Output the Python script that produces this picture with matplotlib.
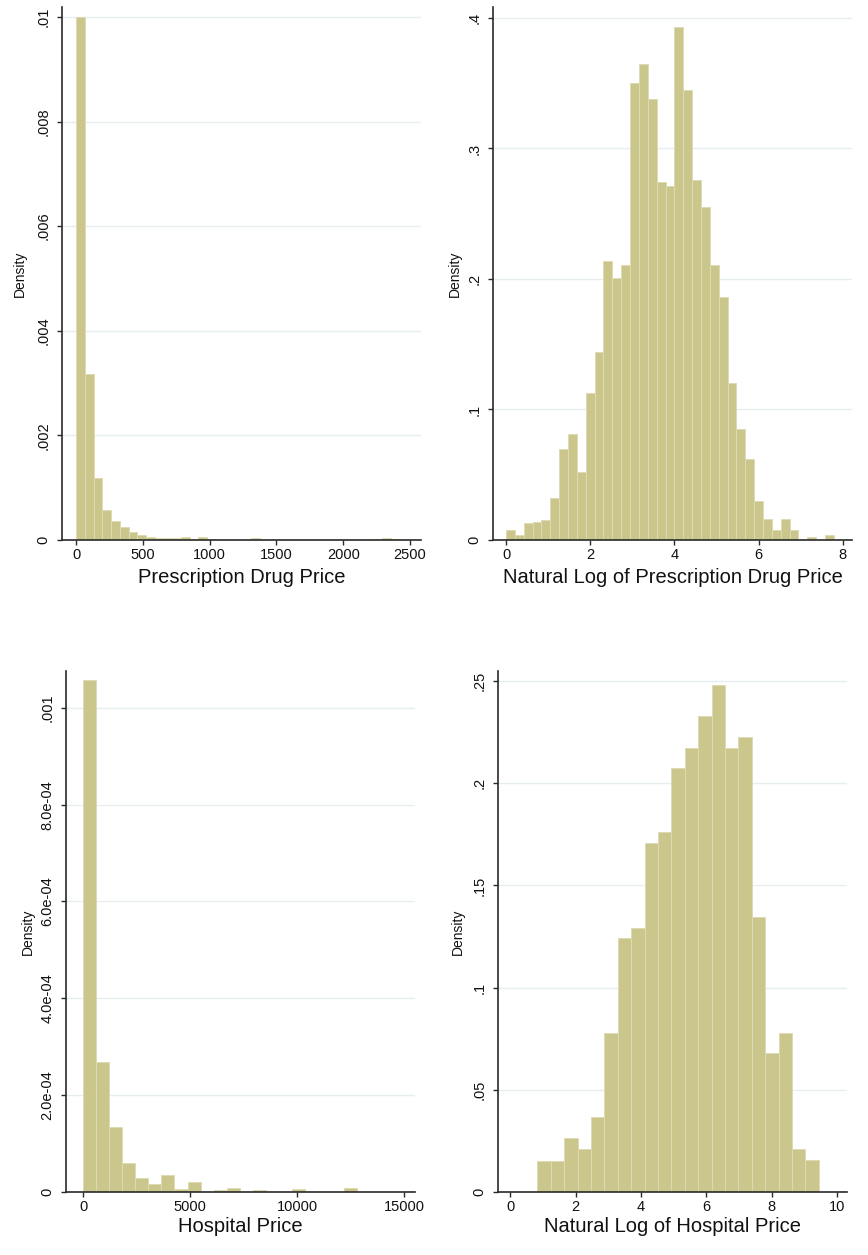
import numpy as np
import matplotlib
matplotlib.use("Agg")
import matplotlib.pyplot as plt

plt.rcParams['font.family'] = ['Liberation Sans', 'DejaVu Sans']

# ---------------- data (densities per bin) ----------------
drug_start = 1.0
drug_width = 65.4
drug_density = [0.0100, 0.00317, 0.00119, 0.00057, 0.00036, 0.00024, 0.00015,
                0.00010, 0.00006, 0.00003, 0.00004, 0.00003, 0.00005, 0.00002,
                0.00005, 0.00001, 0, 0, 0, 0, 0.00003,
                0, 0, 0, 0, 0, 0, 0, 0, 0, 0, 0, 0, 0,
                0.00001, 0.00003, 0.00002]

logdrug_start = 0.0
logdrug_width = 0.2105
logdrug_density = [0.0075, 0.004, 0.013, 0.014, 0.015, 0.032, 0.070, 0.081,
                   0.052, 0.113, 0.144, 0.214, 0.201, 0.211, 0.350, 0.365,
                   0.338, 0.274, 0.271, 0.393, 0.345, 0.276, 0.255, 0.211,
                   0.186, 0.120, 0.085, 0.062, 0.030, 0.016, 0.008, 0.016,
                   0.008, 0.0, 0.002, 0.0, 0.004]

hosp_start = 2.3
hosp_width = 609.0
hosp_density = [0.001057, 0.000269, 0.000134, 0.000059, 0.000028, 0.000017,
                0.000035, 0.000006, 0.000021, 0.0, 0.000005, 0.000009, 0.0,
                0.000005, 0.0, 0.0, 0.000006, 0.0, 0.0, 0.0, 0.000009]

loghosp_start = 0.835
loghosp_width = 0.4098
loghosp_density = [0.0152, 0.0152, 0.0262, 0.0210, 0.0367, 0.0778, 0.1245,
                   0.1294, 0.1708, 0.1761, 0.2072, 0.2171, 0.2329, 0.2479,
                   0.2171, 0.2224, 0.1346, 0.0682, 0.0778, 0.0210, 0.0157]

drug_xticks = [0, 500, 1000, 1500, 2000, 2500]
drug_yticks = [0, 0.002, 0.004, 0.006, 0.008, 0.01]
drug_ylabels = ["0", ".002", ".004", ".006", ".008", ".01"]

logdrug_xticks = [0, 2, 4, 6, 8]
logdrug_yticks = [0, 0.1, 0.2, 0.3, 0.4]
logdrug_ylabels = ["0", ".1", ".2", ".3", ".4"]

hosp_xticks = [0, 5000, 10000, 15000]
hosp_yticks = [0, 0.0002, 0.0004, 0.0006, 0.0008, 0.001]
hosp_ylabels = ["0", "2.0e-04", "4.0e-04", "6.0e-04", "8.0e-04", ".001"]

loghosp_xticks = [0, 2, 4, 6, 8, 10]
loghosp_yticks = [0, 0.05, 0.1, 0.15, 0.2, 0.25]
loghosp_ylabels = ["0", ".05", ".1", ".15", ".2", ".25"]

# ---------------- styling ----------------
W, H = 868, 1255
BAR = '#CBC68C'
EDGE = '#DEDAB4'
GRID = '#E6EEF0'
AXC = '#2a2a2a'

fig = plt.figure(figsize=(W / 100, H / 100), dpi=100)
fig.patch.set_facecolor('white')


def make_axes(l, r, t, b):
    return fig.add_axes([l / W, (H - b) / H, (r - l) / W, (b - t) / H])


def panel(ax, start, width, dens, xlim, ylim, xticks, yticks, ylabels,
          xlabel, ylab_x, xlab_y):
    dens = np.asarray(dens, dtype=float)
    left = start + width * np.arange(len(dens))
    ax.bar(left, dens, width=width, align='edge', color=BAR,
           edgecolor=EDGE, linewidth=0.7, zorder=2)
    ax.set_xlim(*xlim)
    ax.set_ylim(*ylim)
    ax.set_xticks(xticks)
    ax.set_xticklabels([str(v) for v in xticks], fontsize=10.5)
    ax.set_yticks(yticks)
    ax.set_yticklabels(ylabels, rotation=90, va='center', fontsize=10.5)
    ax.yaxis.grid(True, color=GRID, linewidth=1.0, zorder=0)
    ax.xaxis.grid(False)
    ax.set_axisbelow(True)
    for s in ('top', 'right'):
        ax.spines[s].set_visible(False)
    for s in ('left', 'bottom'):
        ax.spines[s].set_color(AXC)
        ax.spines[s].set_linewidth(1.2)
    ax.tick_params(axis='both', direction='out', length=3.5, width=1.0,
                   color=AXC, labelcolor='#111111')
    ax.tick_params(axis='x', pad=2)
    ax.tick_params(axis='y', pad=5)
    ax.set_xlabel(xlabel, fontsize=14.5, color='#111111')
    ax.xaxis.set_label_coords(0.5, xlab_y)
    ax.xaxis.label.set_va('center')
    ax.set_ylabel('Density', fontsize=10, color='#111111')
    ax.yaxis.set_label_coords(ylab_x, 0.5)
    ax.yaxis.label.set_va('center')
    ax.set_facecolor('white')


# top-left
ax1 = make_axes(62, 421, 7, 540)
panel(ax1, drug_start, drug_width, drug_density, (-105, 2582), (0, 0.01019),
      drug_xticks, drug_yticks, drug_ylabels, 'Prescription Drug Price',
      -42 / 359, -38 / 533)

# top-right
ax2 = make_axes(493, 852, 7, 540)
panel(ax2, logdrug_start, logdrug_width, logdrug_density, (-0.31, 8.22),
      (0, 0.4084), logdrug_xticks, logdrug_yticks, logdrug_ylabels,
      'Natural Log of Prescription Drug Price', -38 / 359, -38 / 533)

# bottom-left
ax3 = make_axes(66, 415, 671, 1192)
panel(ax3, hosp_start, hosp_width, hosp_density, (-809, 15514), (0, 0.001076),
      hosp_xticks, hosp_yticks, hosp_ylabels, 'Hospital Price',
      -38 / 349, -34 / 521)

# bottom-right
ax4 = make_axes(498, 847, 671, 1192)
panel(ax4, loghosp_start, loghosp_width, loghosp_density, (-0.37, 10.3),
      (0, 0.2549), loghosp_xticks, loghosp_yticks, loghosp_ylabels,
      'Natural Log of Hospital Price', -40 / 349, -34 / 521)

fig.savefig('out.png', dpi=100, facecolor='white')
